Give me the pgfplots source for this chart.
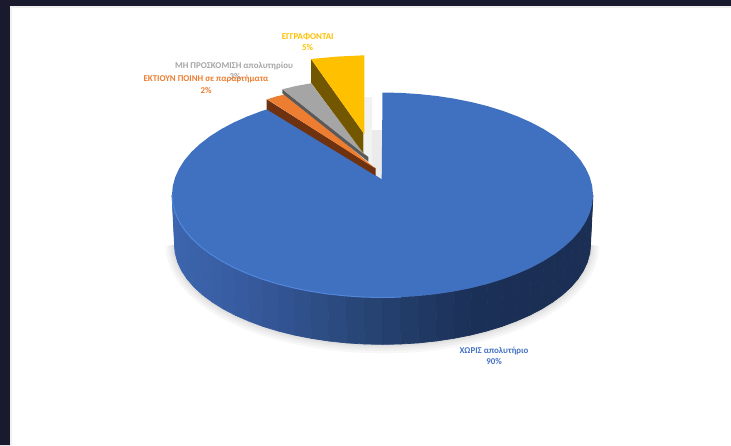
\documentclass[border=0pt]{standalone}
\usepackage{fontspec}
\setmainfont{Carlito}[BoldFont={Carlito Bold}]
\usepackage{pgfplots}
\usepackage{pgfplotstable}
\pgfplotsset{compat=1.18}

\definecolor{page}{HTML}{1A1A2E}
\definecolor{pieblue}{HTML}{4070C0}
\definecolor{rimblue}{HTML}{5288DC}
\definecolor{labelblue}{HTML}{4472C4}
\definecolor{piegold}{HTML}{FFC000}
\definecolor{piegoldside}{HTML}{735700}
\definecolor{piegray}{HTML}{A5A5A5}
\definecolor{piegrayside}{HTML}{5A5A5A}
\definecolor{pieorange}{HTML}{ED7D31}
\definecolor{pieorangeside}{HTML}{6E3210}

\tikzset{lab/.style={font=\bfseries\fontsize{8.9}{10}\selectfont, inner sep=0pt, anchor=center}}

% outline of the big slice, image pixels
\pgfplotstableread{
x y
382.5 92.5
400.9 92.9
419.0 94.1
437.0 96.0
454.5 98.7
471.5 102.1
487.8 106.2
503.2 111.0
517.8 116.5
531.3 122.5
543.7 129.1
554.9 136.2
564.8 143.8
573.3 151.7
580.3 159.9
585.8 168.5
589.8 177.2
592.2 186.1
593.0 195.0
592.2 203.9
589.8 212.8
585.8 221.5
580.3 230.1
573.3 238.3
564.8 246.2
554.9 253.8
543.7 260.9
531.3 267.5
517.8 273.5
503.2 279.0
487.8 283.8
471.5 287.9
454.5 291.3
437.0 294.0
419.0 295.9
400.9 297.1
382.5 297.5
364.1 297.1
346.0 295.9
328.0 294.0
310.5 291.3
293.5 287.9
277.2 283.8
261.8 279.0
247.2 273.5
233.7 267.5
221.3 260.9
210.1 253.8
200.2 246.2
191.7 238.3
184.7 230.1
179.2 221.5
175.2 212.8
172.8 203.9
172.0 195.0
172.8 186.1
175.2 177.2
179.2 168.5
184.7 159.9
191.7 151.7
200.2 143.8
210.1 136.2
221.3 129.1
233.7 122.5
247.2 116.5
261.8 111.0
271.7 108.0
381.7 179.3
}\bigslice

% wall of the pie: upper rim, then lower rim, left to right
\pgfplotstableread{
x y
172.0 195.0
172.8 203.9
175.2 212.8
179.2 221.5
184.7 230.1
191.7 238.3
200.2 246.2
210.1 253.8
221.3 260.9
233.7 267.5
247.2 273.5
261.8 279.0
277.2 283.8
293.5 287.9
310.5 291.3
328.0 294.0
346.0 295.9
364.1 297.1
382.5 297.5
400.9 297.1
419.0 295.9
437.0 294.0
454.5 291.3
471.5 287.9
487.8 283.8
503.2 279.0
517.8 273.5
531.3 267.5
543.7 260.9
554.9 253.8
564.8 246.2
573.3 238.3
580.3 230.1
585.8 221.5
589.8 212.8
592.2 203.9
593.0 195.0
174.5 245.0
175.3 253.6
177.7 262.3
181.6 270.7
187.1 279.0
194.0 287.0
202.4 294.7
212.2 302.0
223.2 308.9
235.5 315.3
248.8 321.1
263.2 326.5
278.5 331.1
294.6 335.1
311.4 338.4
328.7 341.0
346.4 342.9
364.3 344.0
382.5 344.4
400.7 344.0
418.6 342.9
436.3 341.0
453.6 338.4
470.4 335.1
486.5 331.1
501.8 326.5
516.2 321.1
529.5 315.3
541.8 308.9
552.8 302.0
562.6 294.7
571.0 287.0
577.9 279.0
583.4 270.7
587.3 262.3
589.7 253.6
590.5 245.0
}\wall

\begin{document}
\begin{tikzpicture}
\begin{axis}[
    hide axis,
    scale only axis,
    width=731pt,
    height=445pt,
    xmin=0, xmax=731,
    ymin=0, ymax=445,
    y dir=reverse,
    clip=true,
    colormap={wallmap}{rgb255(0cm)=(60,102,174) rgb255(2cm)=(54,89,156) rgb255(5cm)=(37,65,111) rgb255(7.2cm)=(27,48,87) rgb255(10cm)=(27,46,84)},
    point meta min=172,
    point meta max=593,
]

% dark page behind the chart
\addplot[fill=page, draw=none] coordinates {(0,0) (731,0) (731,6) (10,6) (10,445) (0,445)} --cycle;
\addplot[draw=black!6, line width=1.5pt] coordinates {(11,445) (11,7) (731,7)};

% soft shadow round the wall
\addplot[draw=black, opacity=0.03, line width=18pt, line join=round]
    table[x=x, y=y, skip coords between index={0}{37}] {\wall};
\addplot[draw=black, opacity=0.03, line width=13pt, line join=round]
    table[x=x, y=y, skip coords between index={0}{37}] {\wall};
\addplot[draw=black, opacity=0.035, line width=8pt, line join=round]
    table[x=x, y=y, skip coords between index={0}{37}] {\wall};
\addplot[draw=black, opacity=0.035, line width=4pt, line join=round]
    table[x=x, y=y, skip coords between index={0}{37}] {\wall};

% shadows in the gap
\addplot[fill=black!5, draw=none] coordinates {(364,97) (372,97) (372,177) (364,165)} --cycle;
\addplot[fill=black!8, draw=none] coordinates {(372,130) (382,130) (382,180) (372,177)} --cycle;

% wall
\addplot[patch, patch type=rectangle, shader=faceted, faceted color=mapped color,
    line width=0.7pt, point meta=x,
    /pgfplots/table/row sep=\\,
    patch table={
        0 1 38 37\\ 1 2 39 38\\ 2 3 40 39\\ 3 4 41 40\\ 4 5 42 41\\ 5 6 43 42\\
        6 7 44 43\\ 7 8 45 44\\ 8 9 46 45\\ 9 10 47 46\\ 10 11 48 47\\ 11 12 49 48\\
        12 13 50 49\\ 13 14 51 50\\ 14 15 52 51\\ 15 16 53 52\\ 16 17 54 53\\ 17 18 55 54\\
        18 19 56 55\\ 19 20 57 56\\ 20 21 58 57\\ 21 22 59 58\\ 22 23 60 59\\ 23 24 61 60\\
        24 25 62 61\\ 25 26 63 62\\ 26 27 64 63\\ 27 28 65 64\\ 28 29 66 65\\ 29 30 67 66\\
        30 31 68 67\\ 31 32 69 68\\ 32 33 70 69\\ 33 34 71 70\\ 34 35 72 71\\ 35 36 73 72\\
    }] table[x=x, y=y] {\wall};

% top face of the big slice
\addplot[fill=pieblue, draw=none] table[x=x, y=y] {\bigslice} --cycle;
% light edge along the front of the rim
\addplot[draw=rimblue, line width=1pt]
    table[x=x, y=y, skip coords between index={20}{74}] {\wall};

% orange slice
\addplot[fill=pieorangeside, draw=none] coordinates {(266.7,99.3) (266.7,109.3) (375.7,175.7) (375.7,168.3)} --cycle;
\addplot[fill=pieorange, draw=none] coordinates {(267.3,99.3) (276.5,96.4) (286.7,94) (375,168.3)} --cycle;

% gray slice
\addplot[fill=piegrayside, draw=none] coordinates {(282.3,89.3) (282.3,93.3) (368.3,161.7) (368.3,157)} --cycle;
\addplot[fill=piegray, draw=none] coordinates {(282.3,89.3) (296,86) (311,83.3) (365,155)} --cycle;

% yellow slice
\addplot[fill=piegoldside, draw=none] coordinates {(311,59) (311,82.7) (363.3,153) (363.3,132.7)} --cycle;
\addplot[fill=piegold, draw=none] coordinates {(311,59) (337,56.6) (364.3,55.3) (364.3,134) (363.3,132.7)} --cycle;

% labels
\node[lab, text=piegold] at (axis cs:307.7,37) {ΕΓΓΡΑΦΟΝΤΑΙ};
\node[lab, text=piegold] at (axis cs:307.7,47.7) {5\%};
\node[lab, text=piegray] at (axis cs:234,66) {ΜΗ ΠΡΟΣΚΟΜΙΣΗ απολυτηρίου};
\node[lab, text=piegray] at (axis cs:235,76) {3\%};
\node[lab, text=pieorange] at (axis cs:206,79.3) {ΕΚΤΙΟΥΝ ΠΟΙΝΗ σε παραρτήματα};
\node[lab, text=pieorange] at (axis cs:206,90.7) {2\%};
\node[lab, text=labelblue] at (axis cs:494,351) {ΧΩΡΙΣ απολυτήριο};
\node[lab, text=labelblue] at (axis cs:494,361.7) {90\%};

\end{axis}
\end{tikzpicture}
\end{document}
